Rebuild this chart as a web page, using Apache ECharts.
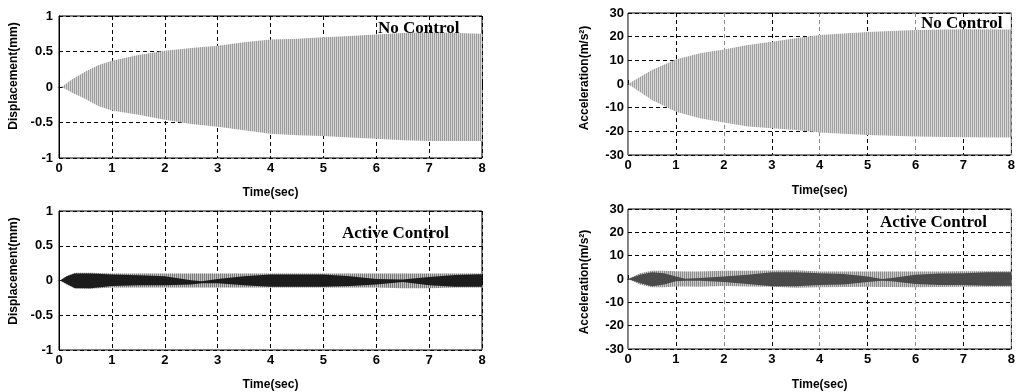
<!DOCTYPE html>
<html>
<head>
<meta charset="utf-8">
<script src="https://cdn.jsdelivr.net/npm/echarts@6/dist/echarts.min.js"></script>
<style>
html,body{margin:0;padding:0;background:#fff;}
#chart{width:1018px;height:392px;}
</style>
</head>
<body>
<div id="chart"></div>
<script>
// ---------- data (envelopes) ----------
var xTicks = [0, 1, 2, 3, 4, 5, 6, 7, 8];
var dispTicks = [-1, -0.5, 0, 0.5, 1];
var accTicks = [-30, -20, -10, 0, 10, 20, 30];

// Displacement, No Control
var tDispNo  = [0.05, 0.25, 0.5, 0.75, 1, 1.5, 2, 2.5, 3, 3.5, 4, 4.5, 5, 5.5, 6, 6.5, 7, 7.5, 8];
var upDispNo = [0, 0.11, 0.22, 0.31, 0.37, 0.45, 0.51, 0.55, 0.58, 0.63, 0.67, 0.68, 0.70, 0.72, 0.74, 0.76, 0.77, 0.76, 0.75];
var loDispNo = [0, -0.08, -0.17, -0.27, -0.33, -0.39, -0.46, -0.52, -0.56, -0.61, -0.66, -0.68, -0.69, -0.71, -0.73, -0.75, -0.76, -0.76, -0.76];

// Acceleration, No Control
var tAccNo  = [0, 0.25, 0.5, 1, 1.5, 2, 2.5, 3, 3.5, 4, 5, 6, 7, 8];
var upAccNo = [0, 3, 5.9, 10.4, 13, 14.6, 16.5, 17.9, 19.3, 20.7, 22, 22.8, 23.1, 23];
var loAccNo = [0, -3.4, -6.8, -11.7, -14.5, -16.3, -18, -18.7, -19.4, -20.5, -21.5, -22.2, -22.5, -22.6];

// Displacement, Active Control (outer envelope + dense core)
var tDispAct     = [0.02, 0.15, 0.3, 0.6, 1, 1.5, 2, 2.5, 2.7, 3, 3.5, 4, 5, 5.5, 6, 6.5, 7, 7.5, 8];
var upDispAct    = [0, 0.07, 0.11, 0.11, 0.1, 0.1, 0.1, 0.1, 0.1, 0.1, 0.1, 0.1, 0.1, 0.1, 0.1, 0.1, 0.1, 0.1, 0.1];
var loDispAct    = [0, -0.06, -0.11, -0.12, -0.1, -0.1, -0.1, -0.1, -0.1, -0.1, -0.1, -0.1, -0.1, -0.1, -0.1, -0.11, -0.11, -0.1, -0.1];
var upDispActCore = [0, 0.06, 0.1, 0.1, 0.085, 0.075, 0.06, 0.005, -0.01, 0.02, 0.06, 0.085, 0.085, 0.06, 0.02, 0.014, 0.05, 0.08, 0.09];
var loDispActCore = [0, -0.05, -0.11, -0.11, -0.08, -0.07, -0.07, -0.056, -0.04, -0.04, -0.07, -0.09, -0.09, -0.08, -0.056, -0.023, -0.07, -0.09, -0.09];

// Acceleration, Active Control (outer envelope + dense core)
var tAccAct      = [0, 0.25, 0.5, 0.75, 1, 1.2, 1.5, 2, 2.5, 3, 3.5, 4, 4.5, 5, 5.3, 5.5, 6, 6.5, 7, 7.5, 8];
var upAccAct     = [0, 2.5, 3.5, 3.5, 3.3, 3.2, 3.2, 3.5, 3.5, 3.6, 3.75, 3.2, 3.2, 3.2, 3.2, 3.2, 3.2, 3.2, 3.3, 3.3, 3.3];
var loAccAct     = [0, -2.4, -3.5, -3.5, -3.2, -3.2, -3.3, -3, -3.2, -3.3, -3.75, -3.5, -3.4, -3.3, -3.4, -3.4, -3.5, -3.4, -3.3, -3.3, -3.3];
var upAccActCore = [0, 1.8, 2.9, 2.5, 1.1, 0.1, 0.4, 1.1, 1.8, 2.9, 2.9, 2.5, 2.1, 1.1, 0, 0.4, 1.8, 2.4, 2.5, 2.9, 2.9];
var loAccActCore = [0, -1.7, -3.1, -2.4, -1, -0.7, -0.7, -1.25, -2.1, -3.1, -3.1, -2.6, -2.4, -1.25, -0.7, -1, -2.1, -2.6, -2.6, -2.9, -2.9];

var yNameDisp = 'Displacement(mm)';
var yNameAcc = 'Acceleration(m/s\u00B2)';
var xName = 'Time(sec)';

// ---------- styling helpers ----------
var FONT = "'Liberation Sans', Arial, sans-serif";
var SERIF = "'Liberation Serif', 'Times New Roman', serif";

function stripes(c1, c2) {
  var cv = document.createElement('canvas');
  cv.width = 2; cv.height = 1;
  var ctx = cv.getContext('2d');
  ctx.fillStyle = c1; ctx.fillRect(0, 0, 1, 1);
  ctx.fillStyle = c2; ctx.fillRect(1, 0, 1, 1);
  return { image: cv, repeat: 'repeat' };
}

function band(idx, t, lo, hi, fill, z) {
  var data = t.map(function (x, i) { return [x, lo[i], hi[i]]; });
  return {
    type: 'custom', xAxisIndex: idx, yAxisIndex: idx, z: z || 2, clip: true,
    encode: { x: 0, y: [1, 2] }, silent: true,
    data: data,
    renderItem: function (params, api) {
      if (params.dataIndex !== 0) return;
      var pts = [], i;
      for (i = 0; i < t.length; i++) pts.push(api.coord([t[i], hi[i]]));
      for (i = t.length - 1; i >= 0; i--) pts.push(api.coord([t[i], lo[i]]));
      return { type: 'polygon', shape: { points: pts }, style: { fill: fill, stroke: null } };
    }
  };
}

var grids = [
  { left: 59, top: 16, width: 423, height: 142 },
  { left: 59, top: 211, width: 423, height: 142 },
  { left: 628, top: 13, width: 389, height: 142 },
  { left: 628, top: 209, width: 389, height: 144 }
].map(function (g) { return Object.assign({ show: true, borderColor: '#000', borderWidth: 1, backgroundColor: '#fff' }, g); });

function xAxis(idx, right) {
  return {
    type: 'value', gridIndex: idx, min: xTicks[0], max: xTicks[xTicks.length - 1], interval: 1,
    name: xName, nameLocation: 'middle', nameGap: right ? 30 : 29,
    nameTextStyle: { fontFamily: FONT, fontWeight: 'bold', fontSize: 12, color: '#000' },
    axisLine: { show: true, lineStyle: { color: '#000', width: 1 } },
    axisTick: { show: true, inside: true, length: 4, lineStyle: { color: '#000' } },
    axisLabel: { margin: 4, fontFamily: FONT, fontWeight: 'bold', fontSize: 13, color: '#000' },
    splitLine: { show: true, lineStyle: { color: right ? ['#8a8a8a', '#000'] : '#000', type: [4, 3], width: 1 } }
  };
}
function yAxis(idx, ticks, interval, right) {
  return {
    type: 'value', gridIndex: idx, min: ticks[0], max: ticks[ticks.length - 1], interval: interval,
    axisLine: { show: true, lineStyle: { color: right ? '#8a8a8a' : '#000', width: 1 } },
    axisTick: { show: true, inside: true, length: 4, lineStyle: { color: '#000' } },
    axisLabel: { margin: right ? 4 : 6, fontFamily: FONT, fontWeight: 'bold', fontSize: 13, color: '#000' },
    splitLine: { show: true, lineStyle: { color: '#000', type: [4, 3], width: 1 } }
  };
}

function vText(x, y, txt) {
  return { type: 'text', x: x, y: y, rotation: Math.PI / 2, z: 10,
    style: { text: txt, align: 'center', verticalAlign: 'middle', font: 'bold 12px ' + FONT, fill: '#000' } };
}
function tag(x, y, txt) {
  return { type: 'text', x: x, y: y, z: 10,
    style: { text: txt, align: 'left', verticalAlign: 'middle', font: 'bold 17px ' + SERIF, fill: '#000' } };
}

var option = {
  animation: false,
  backgroundColor: '#fff',
  grid: grids,
  xAxis: [xAxis(0, false), xAxis(1, false), xAxis(2, true), xAxis(3, true)],
  yAxis: [yAxis(0, dispTicks, 0.5, false), yAxis(1, dispTicks, 0.5, false), yAxis(2, accTicks, 10, true), yAxis(3, accTicks, 10, true)],
  series: [
    band(0, tDispNo, loDispNo, upDispNo, stripes('#9c9c9c', '#d6d6d6')),
    band(1, tDispAct, loDispAct, upDispAct, stripes('#7a7a7a', '#c4c4c4')),
    band(1, tDispAct, loDispActCore, upDispActCore, '#1c1c1c', 3),
    band(2, tAccNo, loAccNo, upAccNo, stripes('#a0a0a0', '#d8d8d8')),
    band(3, tAccAct, loAccAct, upAccAct, stripes('#8a8a8a', '#cccccc')),
    band(3, tAccAct, loAccActCore, upAccActCore, '#4a4a4a', 3)
  ],
  graphic: [
    vText(14, 76, yNameDisp),
    vText(14, 271, yNameDisp),
    vText(585, 78, yNameAcc),
    vText(585, 282, yNameAcc),
    tag(378, 29, 'No Control'),
    tag(342, 234, 'Active Control'),
    tag(921, 24, 'No Control'),
    tag(880, 223, 'Active Control')
  ]
};

var chart = echarts.init(document.getElementById('chart'), null, { renderer: 'canvas' });
chart.setOption(option);
</script>
</body>
</html>
